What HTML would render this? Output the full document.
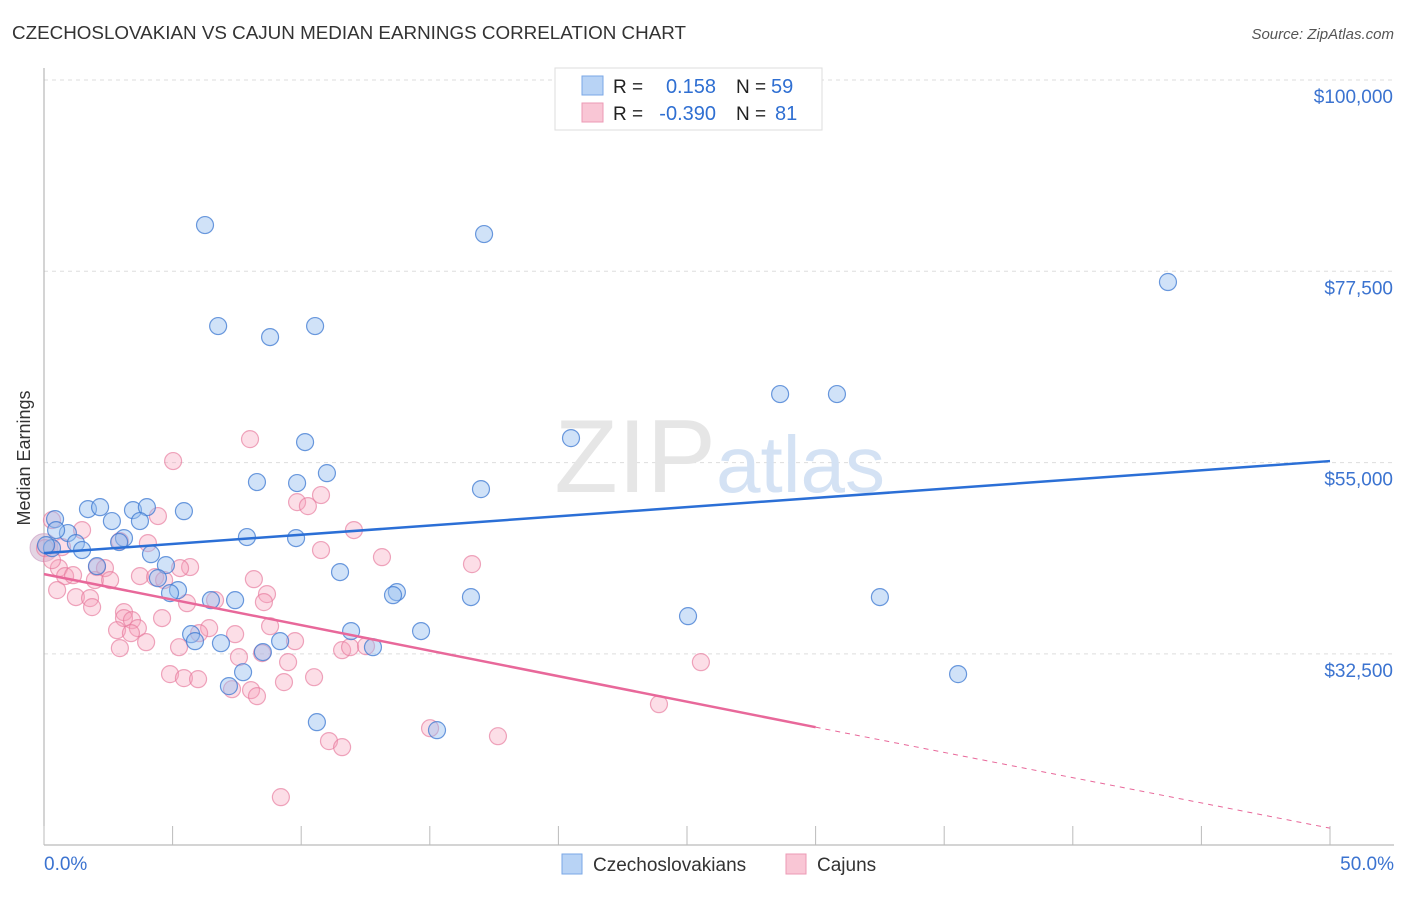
<!DOCTYPE html>
<html><head><meta charset="utf-8"><style>
body{margin:0;background:#fff;font-family:"Liberation Sans",sans-serif;}
svg text{font-family:"Liberation Sans",sans-serif;}
</style></head><body>
<svg id="chart" width="1406" height="892">
<text x="12" y="39" font-size="18" fill="#333" textLength="674" lengthAdjust="spacingAndGlyphs">CZECHOSLOVAKIAN VS CAJUN MEDIAN EARNINGS CORRELATION CHART</text>
<text x="1394" y="39" font-size="15" fill="#555" font-style="italic" text-anchor="end">Source: ZipAtlas.com</text>
<text x="30" y="458" font-size="18" fill="#333" transform="rotate(-90 30 458)" text-anchor="middle">Median Earnings</text>
<g id="grid"></g>
<text x="716" y="492" font-size="104" fill="#e6e6e6" font-family="Liberation Serif" text-anchor="end">ZIP</text>
<text x="716" y="492" font-size="80" fill="#d4e2f4">atlas</text>
<g id="pts"></g>
<g id="lines"></g>
<g>
<rect x="555" y="68" width="267" height="62" fill="#fff" stroke="#ddd"/>
<rect x="582" y="76" width="21" height="19" fill="#b8d3f5" stroke="#7aa7e6"/>
<rect x="582" y="103" width="21" height="19" fill="#f9c6d5" stroke="#ec9ab5"/>
<text x="613" y="93" font-size="19" fill="#222">R =</text><text x="716" y="93" font-size="20" fill="#2f6fd2" text-anchor="end">0.158</text>
<text x="736" y="93" font-size="19" fill="#222">N =</text><text x="771" y="93" font-size="20" fill="#2f6fd2">59</text>
<text x="613" y="120" font-size="19" fill="#222">R =</text><text x="716" y="120" font-size="20" fill="#2f6fd2" text-anchor="end">-0.390</text>
<text x="736" y="120" font-size="19" fill="#222">N =</text><text x="775" y="120" font-size="20" fill="#2f6fd2">81</text>
</g>
<g>
<rect x="562" y="854" width="20" height="20" fill="#b8d3f5" stroke="#7aa7e6"/>
<text x="593" y="871" font-size="19" fill="#333">Czechoslovakians</text>
<rect x="786" y="854" width="20" height="20" fill="#f9c6d5" stroke="#ec9ab5"/>
<text x="817" y="871" font-size="19" fill="#333">Cajuns</text>
</g>
<text x="44" y="870" font-size="19" fill="#3b73d0">0.0%</text>
<text x="1394" y="870" font-size="19" fill="#3b73d0" text-anchor="end">50.0%</text>
</svg>
<script>
const yTicks=[100000,77500,55000,32500];
const yTickLabels=["$100,000","$77,500","$55,000","$32,500"];
const xTicks=[0,5,10,15,20,25,30,35,40,45,50];
const blueX=[6.26,17.11,43.70,6.77,10.54,8.79,28.62,30.83,20.49,10.15,11.00,8.28,9.84,16.99,1.71,2.18,3.46,4.00,5.44,0.43,2.64,3.73,0.93,7.89,9.80,3.11,1.24,2.92,0.31,1.48,4.16,2.06,4.74,11.51,4.43,5.21,4.90,13.72,13.57,16.60,32.50,6.49,7.43,25.04,11.94,14.66,5.72,5.87,6.88,9.18,12.79,8.51,7.19,7.74,35.54,10.61,15.28,0.08,0.47];
const blueY=[82.94,81.88,76.24,71.06,71.06,69.76,63.06,63.06,57.88,57.41,53.76,52.71,52.59,51.88,49.53,49.76,49.41,49.76,49.29,48.35,48.12,48.12,46.71,46.24,46.12,46.12,45.53,45.65,44.94,44.71,44.23,42.82,42.94,42.12,41.41,40.0,39.65,39.76,39.41,39.18,39.18,38.82,38.82,36.94,35.18,35.18,34.82,34.0,33.76,34.0,33.29,32.71,28.71,30.35,30.12,24.47,23.53,45.29,47.06];
const pinkX=[8.01,5.02,9.84,10.77,10.26,4.43,12.05,1.48,0.31,0.70,2.95,4.04,10.77,13.14,16.64,0.58,2.06,2.37,5.68,5.29,0.82,1.13,1.98,2.57,3.73,4.32,4.67,8.16,0.51,8.67,1.24,1.79,5.56,8.55,6.65,3.11,1.87,3.11,3.42,4.59,3.65,2.84,3.38,6.42,6.03,8.79,7.43,9.76,3.97,5.25,2.95,11.59,11.90,12.52,7.58,8.48,9.49,4.90,5.44,5.99,10.50,9.33,7.31,8.05,8.28,25.54,23.91,15.01,17.65,11.08,11.59,9.21,0.04,0.31];
const pinkY=[57.76,55.18,50.35,51.18,49.88,48.71,47.06,47.06,48.24,45.06,45.76,45.53,44.71,43.88,43.06,42.59,42.71,42.59,42.71,42.59,41.65,41.76,41.18,41.18,41.65,41.53,41.18,41.29,40.0,39.53,39.18,39.06,38.47,38.59,38.82,37.41,38.0,36.71,36.47,36.71,35.53,35.29,34.94,35.53,34.94,35.76,34.82,34.0,33.88,33.29,33.18,32.94,33.29,33.41,32.12,32.59,31.53,30.12,29.65,29.53,29.76,29.18,28.35,28.24,27.53,31.53,26.59,23.76,22.82,22.24,21.53,15.65,44.94,43.53];
const blueLine=[44.35,55.18];
const pinkLine=[41.88,23.88,12.0];
const pinkSolidEnd=30;
const X0=44,X1=1330,Y100=80,PX=8.502;
const xs=p=>X0+(X1-X0)*p/50;
const ys=v=>Y100+(100-v)*PX;
const NS="http://www.w3.org/2000/svg";
function mk(tag,attrs,parent){const e=document.createElementNS(NS,tag);for(const k in attrs)e.setAttribute(k,attrs[k]);parent.appendChild(e);return e;}
const grid=document.getElementById('grid');
yTicks.forEach((t,i)=>{
 const y=ys(t/1000);
 const l=mk('line',{x1:X0,x2:1394,y1:y,y2:y,stroke:'#ddd','stroke-dasharray':'4,4'},grid);
 
 
 const tx=mk('text',{x:1393,y:y+23,'font-size':19,fill:'#3b73d0','text-anchor':'end'},grid);
 tx.textContent=yTickLabels[i];
 
 
});
const ax=mk('line',{x1:X0,x2:X0,y1:68,y2:845,stroke:'#aaa'},grid);


const bx=mk('line',{x1:X0,x2:1394,y1:845,y2:845,stroke:'#aaa'},grid);


xTicks.forEach(t=>{const l=mk('line',{x1:xs(t),x2:xs(t),y1:826,y2:845,stroke:'#bbb'},grid);
 
 });
const pts=document.getElementById('pts');
const big=mk('circle',{cx:xs(0),cy:ys(45),r:14,fill:'rgba(200,170,200,0.5)',stroke:'rgba(200,150,190,0.6)'},pts);


pinkX.forEach((x,i)=>{const c=mk('circle',{cx:xs(x),cy:ys(pinkY[i]),r:8.5,fill:'rgba(245,160,185,0.35)',stroke:'rgba(230,120,155,0.65)','stroke-width':1.2},pts);
 
 });
blueX.forEach((x,i)=>{const c=mk('circle',{cx:xs(x),cy:ys(blueY[i]),r:8.5,fill:'rgba(150,190,240,0.45)',stroke:'rgba(60,120,210,0.75)','stroke-width':1.2},pts);
 
 });
const lines=document.getElementById('lines');
const bl=mk('line',{x1:xs(0),y1:ys(blueLine[0]),x2:xs(50),y2:ys(blueLine[1]),stroke:'#2b6fd6','stroke-width':2.5},lines);


const pl=mk('line',{x1:xs(0),y1:ys(pinkLine[0]),x2:xs(pinkSolidEnd),y2:ys(pinkLine[1]),stroke:'#e8689a','stroke-width':2.5},lines);


const pd=mk('line',{x1:xs(pinkSolidEnd),y1:ys(pinkLine[1]),x2:xs(50),y2:ys(pinkLine[2]),stroke:'#e8689a','stroke-width':1,'stroke-dasharray':'5,5'},lines);


</script>
</body></html>
